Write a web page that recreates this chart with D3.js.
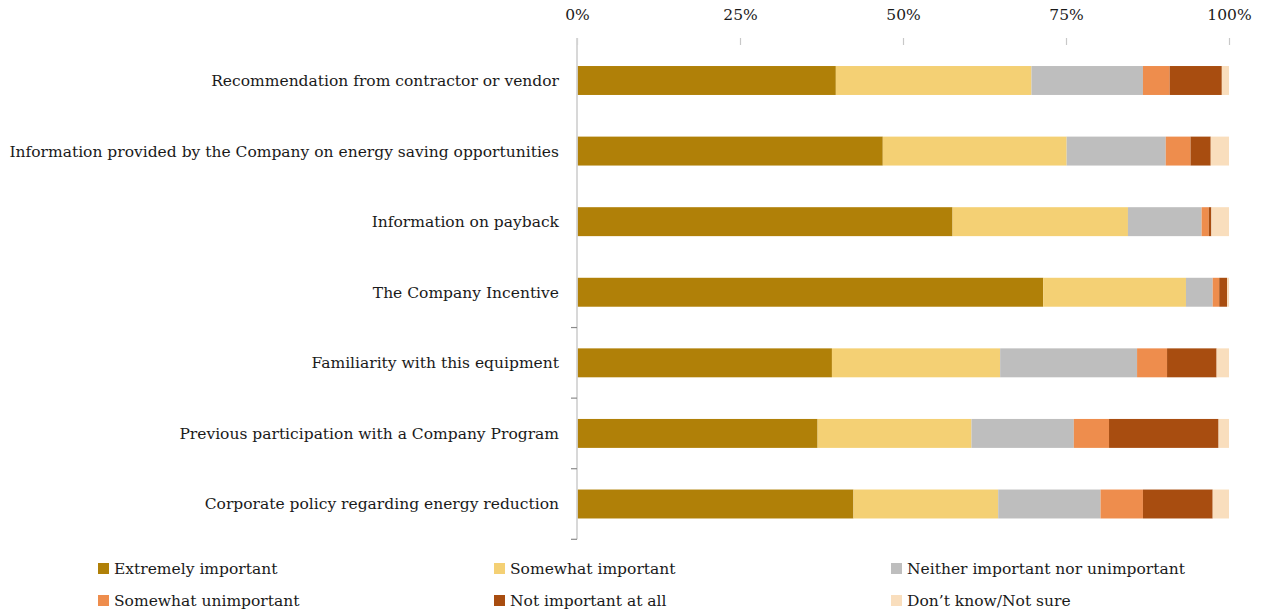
<!DOCTYPE html>
<html>
<head>
<meta charset="utf-8">
<script src="https://cdn.jsdelivr.net/npm/d3@7"></script>
<style>
  html, body { margin: 0; padding: 0; background: #fff; }
  svg { display: block; }
  text { font-family: "DejaVu Serif", "Liberation Serif", serif; fill: #1a1a1a; }
</style>
</head>
<body>
<svg id="chart" width="1265" height="613"></svg>
<script>
// Survey factors, top to bottom
const categories = [
  "Recommendation from contractor or vendor",
  "Information provided by the Company on energy saving opportunities",
  "Information on payback",
  "The Company Incentive",
  "Familiarity with this equipment",
  "Previous participation with a Company Program",
  "Corporate policy regarding energy reduction"
];

// Response levels (stack order, left to right)
const responses = [
  "Extremely important",
  "Somewhat important",
  "Neither important nor unimportant",
  "Somewhat unimportant",
  "Not important at all",
  "Don\u2019t know/Not sure"
];

// Share of respondents (%) per response level, one entry per factor
const extremelyImportant  = [39.7, 46.9, 57.6, 71.5, 39.1, 36.9, 42.4];
const somewhatImportant   = [30.0, 28.2, 26.9, 21.9, 25.8, 23.6, 22.2];
const neither             = [17.1, 15.2, 11.3,  4.1, 21.0, 15.7, 15.7];
const somewhatUnimportant = [ 4.1,  3.8,  1.1,  1.0,  4.6,  5.4,  6.5];
const notImportantAtAll   = [ 8.0,  3.1,  0.4,  1.2,  7.6, 16.8, 10.7];
const dontKnow            = [ 1.1,  2.8,  2.7,  0.3,  1.9,  1.6,  2.5];

const tickValues = [0, 25, 50, 75, 100];
const tickLabels = ["0%", "25%", "50%", "75%", "100%"];

const colors = ["#B08008", "#F4D074", "#BEBEBE", "#EE8D4D", "#A84D10", "#F9DEBD"];

const seriesValues = [extremelyImportant, somewhatImportant, neither,
                      somewhatUnimportant, notImportantAtAll, dontKnow];

const rows = categories.map((c, i) => {
  const r = { category: c };
  responses.forEach((k, j) => { r[k] = seriesValues[j][i]; });
  return r;
});

const stacked = d3.stack().keys(responses)(rows);

const svg = d3.select("#chart");

const x = d3.scaleLinear().domain([0, 100]).range([577, 1229]);
const y = d3.scaleBand().domain(categories)
  .range([45.2, 539.3]).paddingInner(0.59).paddingOuter(0.295);

// Stacked bars
svg.append("g").selectAll("g")
  .data(stacked)
  .join("g")
  .attr("fill", (d, i) => colors[i])
  .selectAll("rect")
  .data(d => d)
  .join("rect")
  .attr("x", d => x(d[0]))
  .attr("y", d => y(d.data.category))
  .attr("width", d => Math.max(0, x(d[1]) - x(d[0])))
  .attr("height", y.bandwidth());

// Top percentage axis
const xAxis = svg.append("g")
  .attr("transform", "translate(0,45)")
  .call(d3.axisTop(x).tickValues(tickValues)
    .tickFormat((d, i) => tickLabels[i]).tickSize(7).tickPadding(18));
xAxis.select(".domain").remove();
xAxis.selectAll(".tick line").attr("stroke", "#c8c8c8").attr("stroke-width", 1.2);
xAxis.selectAll(".tick text")
  .style("font-family", "'DejaVu Serif', serif")
  .style("font-size", "15.5px").attr("fill", "#1a1a1a");

// Left category axis
svg.append("line")
  .attr("x1", x(0)).attr("x2", x(0))
  .attr("y1", 38).attr("y2", 539.3)
  .attr("stroke", "#d4d4d4").attr("stroke-width", 1.8);

const step = y.step();
const boundaries = d3.range(4, 8).map(i => 45.2 + i * step);
svg.append("g").selectAll("line")
  .data(boundaries)
  .join("line")
  .attr("x1", x(0) - 6).attr("x2", x(0))
  .attr("y1", d => d).attr("y2", d => d)
  .attr("stroke", "#8a8a8a").attr("stroke-width", 1.2);

const labelG = svg.append("g");
labelG.selectAll("text")
  .data(categories)
  .join("text")
  .attr("x", 559)
  .attr("y", d => y(d) + y.bandwidth() / 2)
  .attr("dy", "0.35em")
  .attr("text-anchor", "end")
  .style("font-size", "15.5px")
  .text(d => d);

// Legend: three columns, two rows
const legendCols = [98, 494, 891];
const legendRows = [569, 601];
const legend = svg.append("g");
responses.forEach((r, i) => {
  const lx = legendCols[i % 3];
  const ly = legendRows[Math.floor(i / 3)];
  legend.append("rect")
    .attr("x", lx).attr("y", ly - 6)
    .attr("width", 11).attr("height", 11)
    .attr("fill", colors[i]);
  legend.append("text")
    .attr("x", lx + 16).attr("y", ly)
    .attr("dy", "0.35em")
    .style("font-size", "15.5px")
    .text(r);
});
</script>
</body>
</html>
